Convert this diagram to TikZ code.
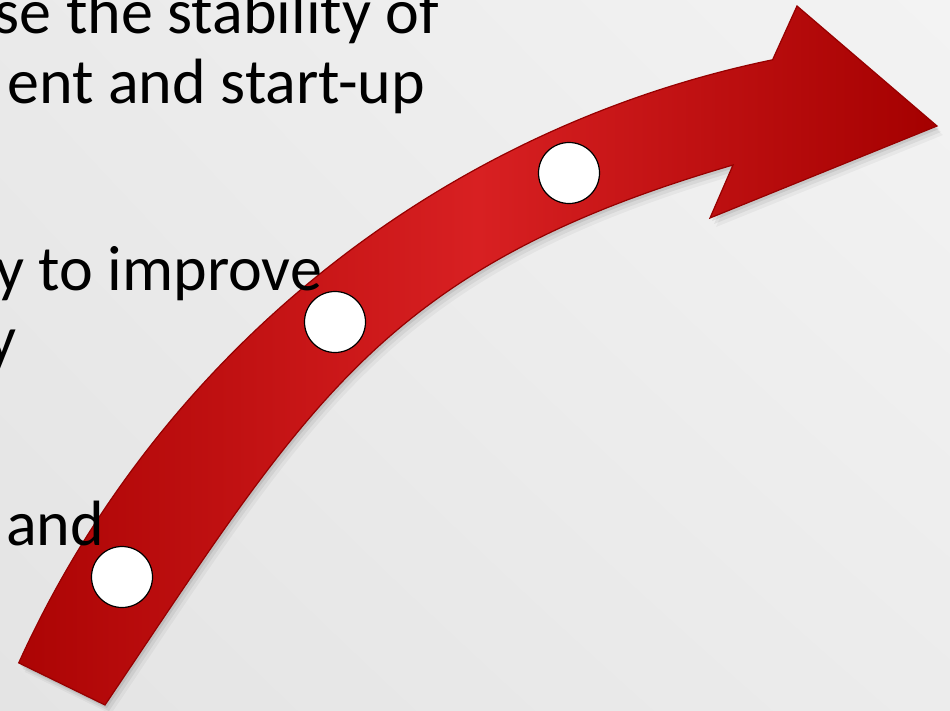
\documentclass[tikz,border=0pt]{standalone}
\usepackage{fontspec}
\setmainfont{Carlito}
\usetikzlibrary{shadings}
\definecolor{bgA}{RGB}{234,234,234}
\definecolor{bgB}{RGB}{243,243,243}
\definecolor{bgC}{RGB}{228,228,228}
\definecolor{bgD}{RGB}{236,236,236}
\definecolor{redTail}{RGB}{172,4,4}
\definecolor{redMid}{RGB}{216,32,34}
\definecolor{redHead}{RGB}{164,0,0}
\definecolor{redEdge}{RGB}{150,0,0}
% band: outer arc about (989,1103) (y pointing down), inner edge as a Bezier
\newcommand\bandpath{([shift={(989,1103)}]204.4:1065.5) arc[start angle=204.4, end angle=258.28, radius=1065.5] -- (797,6) -- (937,126) -- (710,218) -- (733,165) .. controls (383,267) and (309,402) .. (105,705) -- cycle}
\tikzset{
  txt/.style={inner sep=0pt, outer sep=0pt, text=black, font=\fontsize{64}{70}\selectfont},
  dot/.style={circle, draw=black, fill=white, line width=1.2pt, minimum size=61pt, inner sep=0pt},
}
\begin{document}
\begin{tikzpicture}[x=1pt,y=-1pt]
\useasboundingbox (0,0) rectangle (950,710);
\clip (0,0) rectangle (950,710);
\shade[upper left=bgA, upper right=bgB, lower left=bgC, lower right=bgD] (0,0) rectangle (950,710);
% shadow
\begin{scope}[shift={(2,3)}]
  \fill[black, opacity=0.08] \bandpath;
\end{scope}
\begin{scope}[shift={(4,6)}]
  \fill[black, opacity=0.06] \bandpath;
\end{scope}
\begin{scope}[shift={(6,9)}]
  \fill[black, opacity=0.04] \bandpath;
\end{scope}
% band
\path[left color=redTail, right color=redHead, middle color=redMid, draw=redEdge, line width=1.2pt, line join=miter] \bandpath;
% dots
\node[dot] (c1) at (122,577) {};
\node[dot] (c2) at (335,322) {};
\node[dot] (c3) at (569,173) {};
% texts
\node[txt, anchor=base east] (t1) at (439,33) {se the stability of};
\node[txt, anchor=base east] (t2) at (425,103) {ent and start-up};
\node[txt, anchor=base east] (t3) at (322,290) {y to improve};
\node[txt, anchor=base east] (t4) at (16,360) {y};
\node[txt, anchor=base east] (t5) at (104,545) {and};
\end{tikzpicture}
\end{document}
